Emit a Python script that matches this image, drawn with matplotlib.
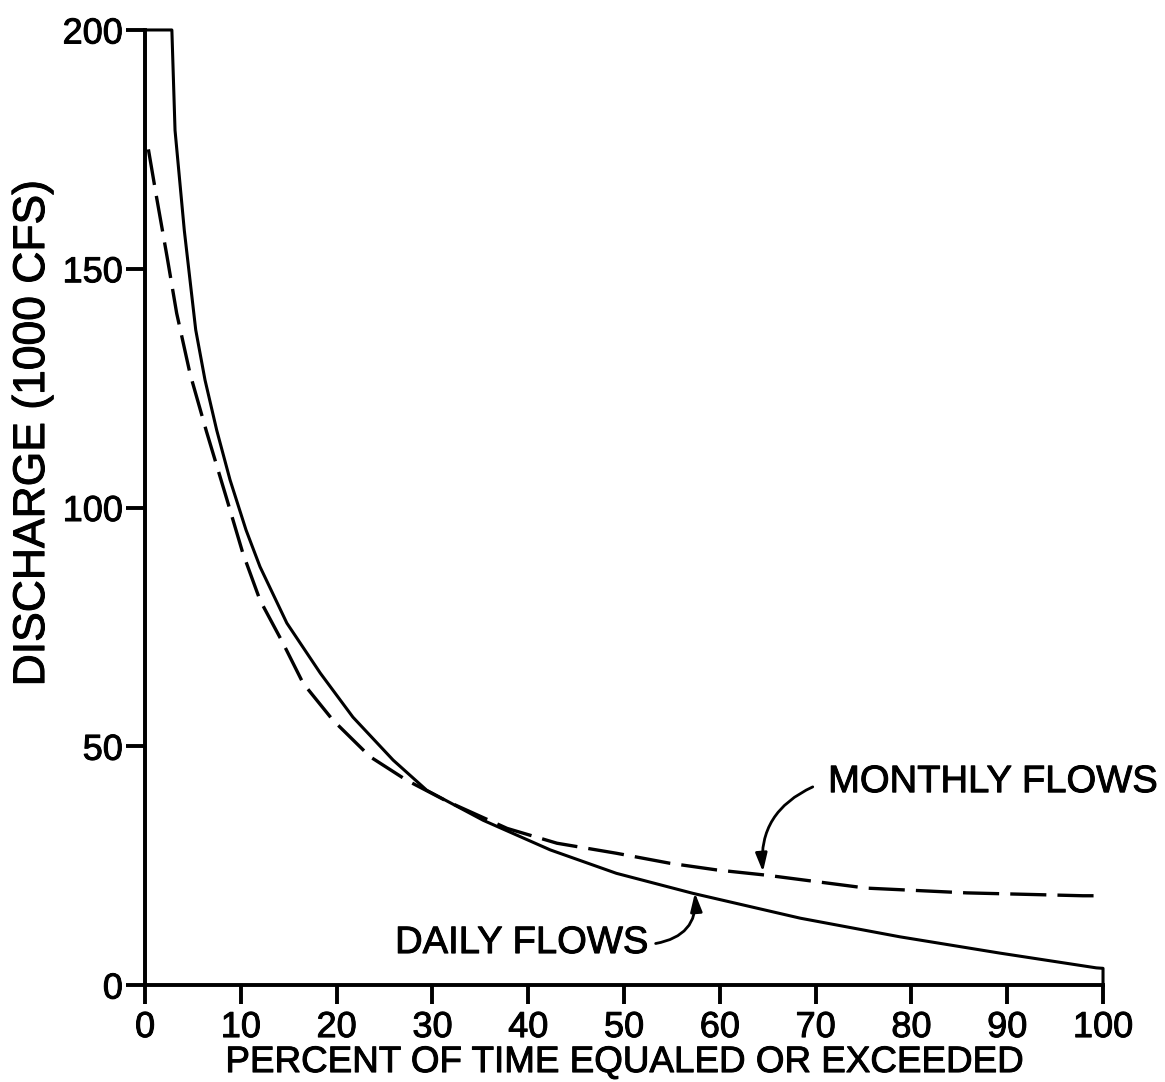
import matplotlib
matplotlib.use("Agg")
import matplotlib.pyplot as plt
import matplotlib.patheffects as pe

plt.rcParams['font.family'] = ['Liberation Sans', 'DejaVu Sans']
plt.rcParams['lines.scale_dashes'] = False

# Flow-duration curves (discharge in 1000 cfs vs percent of time equaled or exceeded)
daily_pct = [0, 0, 2.8, 3.13, 4.1, 5.29, 6.26, 7.48, 8.87, 10.54, 12.0, 14.8,
             18.3, 21.7, 25.9, 29.4, 35.3, 42.3, 49.2, 57.2, 68.4, 78.8, 89.2,
             99.3, 100, 100]
daily_q = [0, 200, 200, 179, 158, 137.2, 126.7, 116.2, 105.8, 95.3, 87.6, 75.8,
           65.3, 56.1, 47.1, 40.8, 34.5, 28.3, 23.4, 19.2, 14.0, 10.1, 6.7,
           3.6, 3.5, 0]

monthly_pct = [0.35, 1.2, 2.3, 3.3, 4.7, 6.4, 8.5, 10.2, 12.0, 14.4, 16.5, 19.6,
               23.5, 27.3, 31.5, 37.8, 43.0, 49.2, 54.8, 59.7, 64.9, 75.3, 85.8,
               97.9, 99.5]
monthly_q = [175, 165, 152.5, 140.7, 128, 116, 102, 90.5, 80.6, 71.6, 63.2, 55.5,
             47.8, 42.9, 38.5, 32.8, 29.7, 27.6, 25.5, 24.1, 23.0, 20.3, 19.3,
             18.7, 18.7]

x_ticks = [0, 10, 20, 30, 40, 50, 60, 70, 80, 90, 100]
y_ticks = [0, 50, 100, 150, 200]

ink = [pe.withStroke(linewidth=0.7, foreground='black')]

fig = plt.figure(figsize=(11.65, 10.82), dpi=100)
ax = fig.add_axes([0.1245, 0.0896, 0.8223, 0.8827])

ax.plot(daily_pct, daily_q, color='black', lw=2.2, clip_on=False,
        solid_joinstyle='round')
ax.plot(monthly_pct, monthly_q, color='black', lw=2.4, dashes=(26, 8),
        clip_on=False)

ax.set_xlim(0, 100)
ax.set_ylim(0, 200)
ax.set_xticks(x_ticks)
ax.set_yticks(y_ticks)

for side in ('top', 'right'):
    ax.spines[side].set_visible(False)
for side in ('left', 'bottom'):
    ax.spines[side].set_linewidth(2.8)

ax.tick_params(axis='both', direction='out', length=14, width=2.8,
               labelsize=26, colors='black')
ax.tick_params(axis='x', pad=4)
ax.tick_params(axis='y', pad=2)
for lbl in ax.get_xticklabels() + ax.get_yticklabels():
    lbl.set_path_effects(ink)

ax.set_xlabel('PERCENT OF TIME EQUALED OR EXCEEDED', fontsize=26.5,
              labelpad=0, path_effects=ink)
ax.set_ylabel('DISCHARGE (1000 CFS)', fontsize=32, path_effects=ink)
ax.yaxis.set_label_coords(-0.096, 0.578)

arrow_kw = dict(arrowstyle='-|>,head_length=1.1,head_width=0.35',
                color='black', lw=2.0, shrinkA=0, shrinkB=0)

ax.text(71.3, 40.4, 'MONTHLY FLOWS', fontsize=27.5, ha='left',
        va='baseline', path_effects=ink)
ax.annotate('', xy=(64.5, 23.7), xytext=(69.7, 41.5),
            arrowprops=dict(connectionstyle='arc3,rad=0.35', **arrow_kw))

ax.text(26.1, 6.7, 'DAILY FLOWS', fontsize=27.5, ha='left', va='baseline',
        path_effects=ink)
ax.annotate('', xy=(57.4, 19.3), xytext=(53.3, 8.7),
            arrowprops=dict(connectionstyle='arc3,rad=0.45', **arrow_kw))

fig.savefig('out.png', dpi=100)
